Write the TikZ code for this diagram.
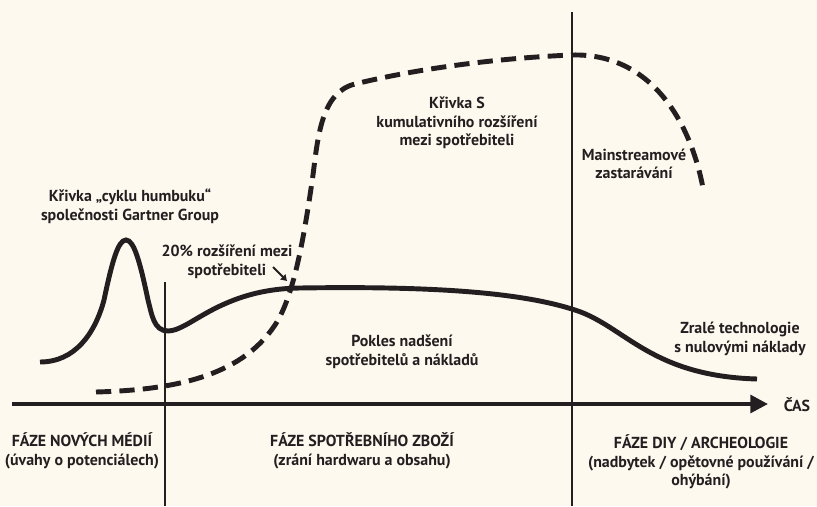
\documentclass[tikz,border=0pt]{standalone}
\usepackage{fontspec}
\setmainfont{PT Sans}
\usetikzlibrary{arrows.meta}

\definecolor{paper}{HTML}{FDF9EF}
\definecolor{ink}{HTML}{231F20}

\tikzset{
  lbl/.style={align=center, text=ink, inner sep=0pt, font=\fontsize{13.6}{15.8}\selectfont\bfseries},
  curve/.style={ink, line width=4.2pt},
  scurve/.style={ink, line width=4.2pt, dash pattern=on 13pt off 7pt},
  divider/.style={ink, line width=1.7pt}
}

\begin{document}
\begin{tikzpicture}[x=0.03cm, y=-0.03cm]
  \fill[paper] (0,0) rectangle (817,506);
  \useasboundingbox (0,0) rectangle (817,506);

  % time axis and phase borders
  \draw[ink, line width=3.4pt, -{Triangle[length=15pt,width=15pt]}] (12,404) -- (768,404);
  \draw[divider] (165,282) -- (165,506);
  \draw[divider] (572,12) -- (572,506);

  % hype cycle
  \draw[curve] (40,362) to[out=0,in=-105] (104,300)
    .. controls (112,262) and (118,240) .. (126,240)
    .. controls (134,240) and (140,262) .. (148,300)
    to[out=-75,in=180] (168,331)
    .. controls (190,331) and (220,289) .. (300,288)
    .. controls (430,286) and (520,292) .. (575,310)
    .. controls (625,326) and (650,376) .. (757,379);

  % S curve
  \draw[scurve] (96,392) .. controls (170,390) and (240,378) .. (275,325)
    .. controls (295,295) and (305,230) .. (313,175)
    .. controls (318,135) and (322,92) .. (355,84)
    .. controls (420,68) and (500,58) .. (572,55)
    .. controls (650,53) and (690,120) .. (703,188);

  \node[lbl] (hype) at (130,206) {Křivka „cyklu humbuku“\\společnosti Gartner Group};
  \node[lbl] (adopt) at (227,262) {20\% rozšíření mezi\\spotřebiteli};
  \node[lbl] (scurvetxt) at (457,123) {Křivka S\\kumulativního rozšíření\\mezi spotřebiteli};
  \node[lbl] (mainst) at (634,164) {Mainstreamové\\zastarávání};
  \node[lbl] (pokles) at (402,352) {Pokles nadšení\\spotřebitelů a nákladů};
  \node[lbl] (zrale) at (740,339) {Zralé technologie\\s nulovými náklady};
  \node[lbl] (cas) at (797,405) {ČAS};
  \node[lbl] (faze1) at (82,451) {FÁZE NOVÝCH MÉDIÍ\\(úvahy o potenciálech)};
  \node[lbl] (faze2) at (362,451) {FÁZE SPOTŘEBNÍHO ZBOŽÍ\\(zrání hardwaru a obsahu)};
  \node[lbl] (faze3) at (701,462) {FÁZE DIY / ARCHEOLOGIE\\(nadbytek / opětovné používání /\\ohýbání)};

  \coordinate (arrtail) at (273,267);
  \coordinate (cross) at (287,281);
  \draw[ink, line width=1.8pt, -{Triangle[length=5pt,width=6pt]}] (arrtail) -- (cross);
\end{tikzpicture}
\end{document}
